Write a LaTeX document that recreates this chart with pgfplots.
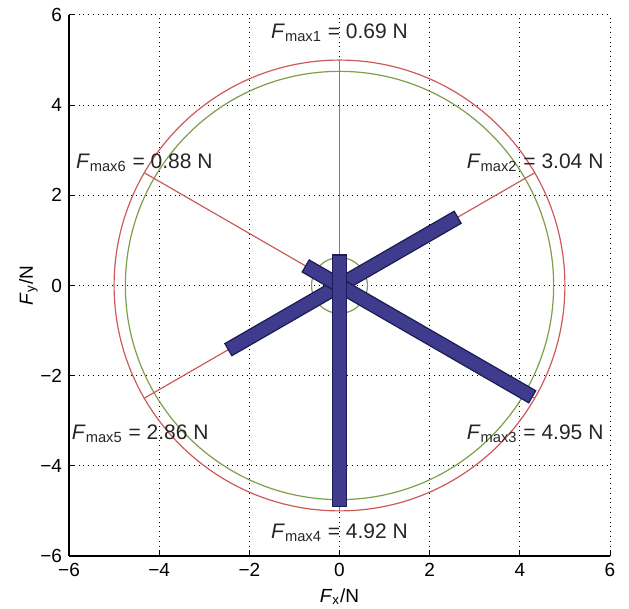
\documentclass[border=0pt]{standalone}
\usepackage{fontspec}
\setmainfont{Liberation Sans}
\usepackage{pgfplots}
\pgfplotsset{compat=1.18}
\definecolor{barfill}{HTML}{3F3C8E}
\definecolor{baredge}{HTML}{1E1C55}
\definecolor{redc}{HTML}{CC5A5A}
\definecolor{greenc}{HTML}{7E9E48}
\begin{document}
\begin{tikzpicture}
\begin{axis}[
  scale only axis, width=270.5pt, height=270.5pt,
  xmin=-6, xmax=6, ymin=-6, ymax=6,
  xtick={-6,-4,-2,0,2,4,6}, ytick={-6,-4,-2,0,2,4,6},
  xticklabels={−6,−4,−2,0,2,4,6}, yticklabels={−6,−4,−2,0,2,4,6},
  grid=major, grid style={black, dotted, line width=0.5pt},
  axis x line*=bottom, axis y line*=left,
  axis line style={black, line width=0.6pt, -},
  tick align=inside, major tick length=3pt,
  tick style={black, line width=0.5pt},
  tick label style={font=\fontsize{9.5}{11}\selectfont},
  label style={font=\fontsize{9.5}{11}\selectfont},
  xlabel={\textit{F}\textsubscript{x}/N},
  ylabel={\textit{F}\textsubscript{y}/N},
  xlabel style={yshift=1pt},
  ylabel style={yshift=-5.5pt},
  clip=false,
]
% reference circles
\draw[redc, line width=0.6pt] (axis cs:0,0) circle [radius=5];
\draw[greenc, line width=0.6pt] (axis cs:0,0) circle [radius=4.75];
\draw[greenc, line width=0.6pt] (axis cs:0,0) circle [radius=0.62];
% red direction lines
\addplot[redc, line width=0.6pt] coordinates {(0,0) (0,5)};
\addplot[redc, line width=0.6pt] coordinates {(0,0) (4.330,2.5)};
\addplot[redc, line width=0.6pt] coordinates {(0,0) (4.330,-2.5)};
\addplot[redc, line width=0.6pt] coordinates {(0,0) (0,-5)};
\addplot[redc, line width=0.6pt] coordinates {(0,0) (-4.330,-2.5)};
\addplot[redc, line width=0.6pt] coordinates {(0,0) (-4.330,2.5)};
% force bars (2 & 5 line, 3 & 6 line, 1 & 4 line)
\addplot[baredge, line width=7.6pt] coordinates {(-2.477,-1.430) (2.633,1.520)};
\addplot[barfill, line width=6.2pt, shorten <=0.7pt, shorten >=0.7pt] coordinates {(-2.477,-1.430) (2.633,1.520)};
\addplot[baredge, line width=7.6pt] coordinates {(-0.762,0.440) (4.287,-2.475)};
\addplot[barfill, line width=6.2pt, shorten <=0.7pt, shorten >=0.7pt] coordinates {(-0.762,0.440) (4.287,-2.475)};
\addplot[baredge, line width=7.6pt] coordinates {(0,0.69) (0,-4.92)};
\addplot[barfill, line width=6.2pt, shorten <=0.7pt, shorten >=0.7pt] coordinates {(0,0.69) (0,-4.92)};
% labels
\tikzset{lab/.style={font=\fontsize{10.5}{12}\selectfont, text=black!85, inner sep=0pt}}
\node[lab] at (axis cs:0,5.6) {\textit{F}\textsubscript{max1} = 0.69 N};
\node[lab] at (axis cs:4.34,2.73) {\textit{F}\textsubscript{max2} = 3.04 N};
\node[lab] at (axis cs:4.34,-3.29) {\textit{F}\textsubscript{max3} = 4.95 N};
\node[lab] at (axis cs:0,-5.49) {\textit{F}\textsubscript{max4} = 4.92 N};
\node[lab] at (axis cs:-4.42,-3.29) {\textit{F}\textsubscript{max5} = 2.86 N};
\node[lab] at (axis cs:-4.33,2.73) {\textit{F}\textsubscript{max6} = 0.88 N};
\end{axis}
\pgfresetboundingbox
\path ([shift={(-34.5pt,-26.5pt)}]current axis.south west) rectangle ([shift={(9.5pt,7.5pt)}]current axis.north east);
\end{tikzpicture}
\end{document}
